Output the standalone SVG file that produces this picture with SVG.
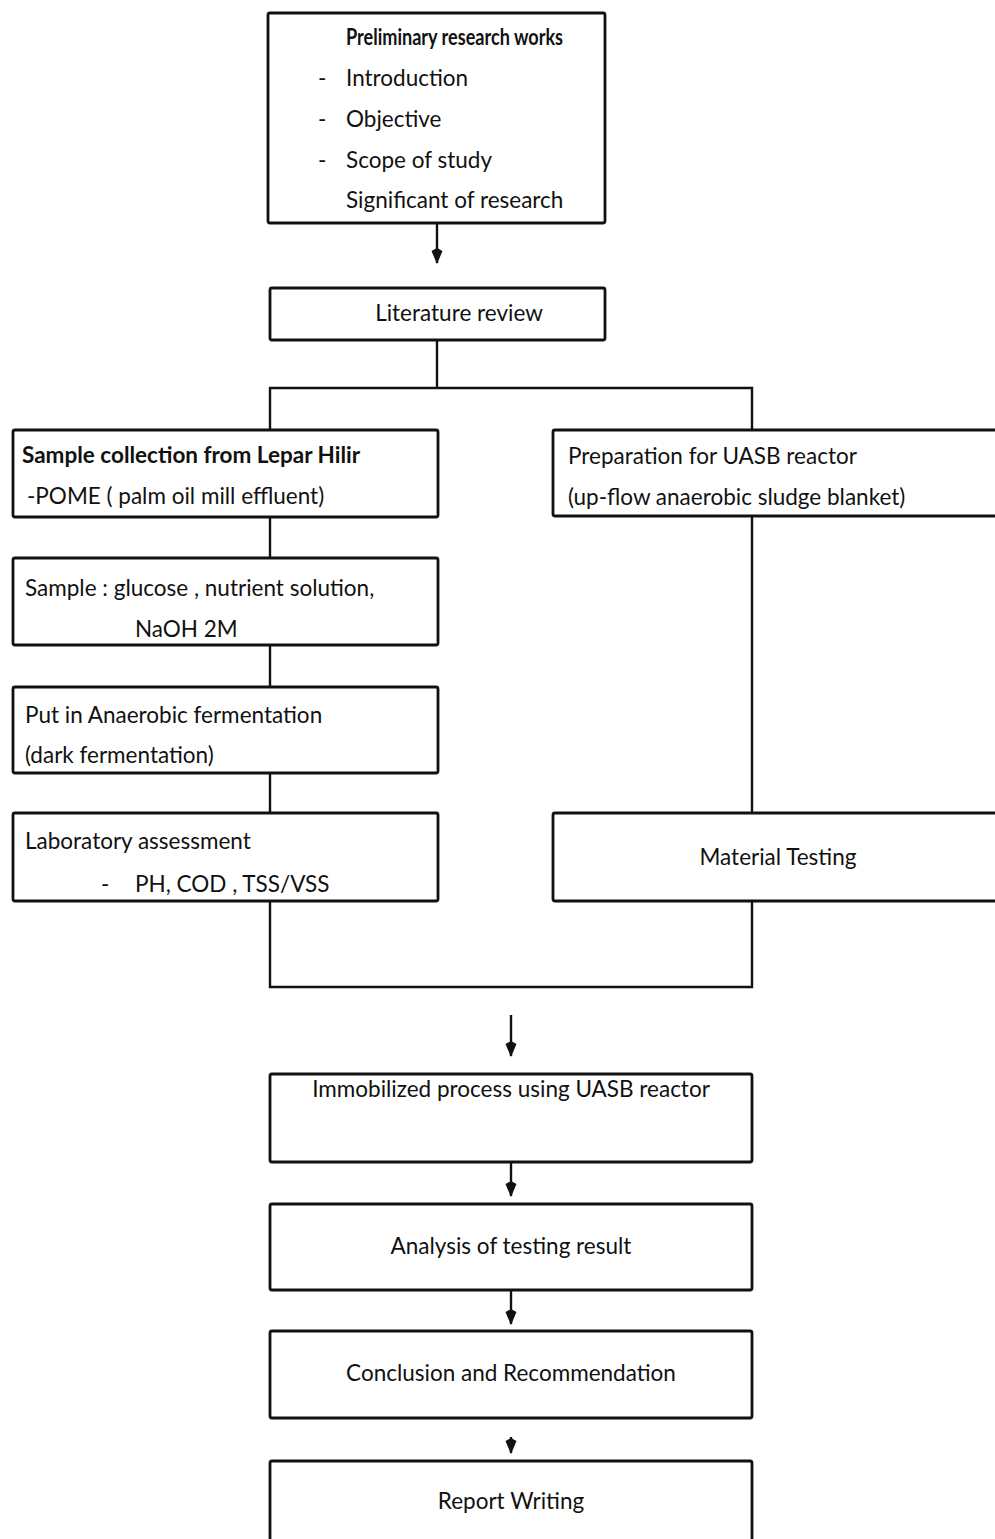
<svg xmlns="http://www.w3.org/2000/svg" width="995" height="1539" viewBox="0 0 995 1539">
<style>
.box{fill:#fff;stroke:#111;stroke-width:2.8}
.ln{fill:none;stroke:#111;stroke-width:2.4}
.t{font-family:Lato,"Liberation Sans",sans-serif;font-size:22.5px;fill:#111}
.b{font-weight:bold}
.m{text-anchor:middle}
</style>
<defs>
<marker id="ah" viewBox="0 0 16 12" refX="15" refY="6" markerWidth="16" markerHeight="12" markerUnits="userSpaceOnUse" orient="auto">
<path d="M0,6 L3,0.5 L16,6 L3,11.5 Z" fill="#111"/>
</marker>
</defs>
<rect width="995" height="1539" fill="#fff"/>
<g id="connectors">
<line class="ln" x1="437" y1="223" x2="437" y2="263" marker-end="url(#ah)"/>
<polyline class="ln" points="437,340 437,388"/>
<polyline class="ln" points="270,430 270,388 752,388 752,430"/>
<line class="ln" x1="270" y1="517" x2="270" y2="558"/>
<line class="ln" x1="270" y1="645" x2="270" y2="687"/>
<line class="ln" x1="270" y1="773" x2="270" y2="813"/>
<line class="ln" x1="752" y1="516" x2="752" y2="813"/>
<polyline class="ln" points="270,901 270,987 752,987 752,901"/>
<line class="ln" x1="511" y1="1015" x2="511" y2="1056" marker-end="url(#ah)"/>
<line class="ln" x1="511" y1="1162" x2="511" y2="1196" marker-end="url(#ah)"/>
<line class="ln" x1="511" y1="1290" x2="511" y2="1324" marker-end="url(#ah)"/>
<line class="ln" x1="511" y1="1437" x2="511" y2="1453" marker-end="url(#ah)"/>
</g>
<g id="n1">
<rect class="box" x="268" y="13" width="337" height="210" rx="2"/>
<text class="t b" x="346" y="45" textLength="217" lengthAdjust="spacingAndGlyphs">Preliminary research works</text>
<text class="t" x="318" y="86">-</text>
<text class="t" x="346" y="86">Introduction</text>
<text class="t" x="318" y="127">-</text>
<text class="t" x="346" y="127">Objective</text>
<text class="t" x="318" y="168">-</text>
<text class="t" x="346" y="168">Scope of study</text>
<text class="t" x="346" y="208">Significant of research</text>
</g>
<g id="n2">
<rect class="box" x="270" y="288" width="335" height="52" rx="2"/>
<text class="t m" x="459" y="321">Literature review</text>
</g>
<g id="n3">
<rect class="box" x="13" y="430" width="425" height="87" rx="2"/>
<text class="t b" x="22" y="463">Sample collection from Lepar Hilir</text>
<text class="t" x="27" y="504">-POME ( palm oil mill effluent)</text>
</g>
<g id="n4">
<rect class="box" x="13" y="558" width="425" height="87" rx="2"/>
<text class="t" x="25" y="596">Sample : glucose , nutrient solution,</text>
<text class="t" x="135" y="637">NaOH 2M</text>
</g>
<g id="n5">
<rect class="box" x="13" y="687" width="425" height="86" rx="2"/>
<text class="t" x="25" y="723">Put in Anaerobic fermentation</text>
<text class="t" x="25" y="763">(dark fermentation)</text>
</g>
<g id="n6">
<rect class="box" x="13" y="813" width="425" height="88" rx="2"/>
<text class="t" x="25" y="849">Laboratory assessment</text>
<text class="t" x="101" y="892">-</text>
<text class="t" x="135" y="892">PH, COD , TSS/VSS</text>
</g>
<g id="n7">
<rect class="box" x="553" y="430" width="450" height="86" rx="2"/>
<text class="t" x="568" y="464">Preparation for UASB reactor</text>
<text class="t" x="568" y="505">(up-flow anaerobic sludge blanket)</text>
</g>
<g id="n8">
<rect class="box" x="553" y="813" width="450" height="88" rx="2"/>
<text class="t m" x="778" y="865">Material Testing</text>
</g>
<g id="n9">
<rect class="box" x="270" y="1074" width="482" height="88" rx="2"/>
<text class="t m" x="511" y="1097">Immobilized process using UASB reactor</text>
</g>
<g id="n10">
<rect class="box" x="270" y="1204" width="482" height="86" rx="2"/>
<text class="t m" x="511" y="1254">Analysis of testing result</text>
</g>
<g id="n11">
<rect class="box" x="270" y="1331" width="482" height="87" rx="2"/>
<text class="t m" x="511" y="1381">Conclusion and Recommendation</text>
</g>
<g id="n12">
<rect class="box" x="270" y="1461" width="482" height="90" rx="2"/>
<text class="t m" x="511" y="1509">Report Writing</text>
</g>
</svg>
